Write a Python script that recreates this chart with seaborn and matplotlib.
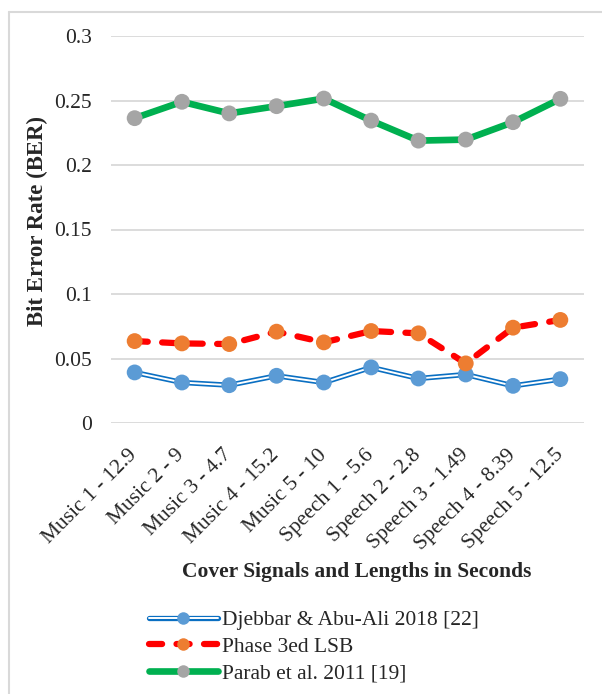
import matplotlib
matplotlib.use("Agg")
import matplotlib.pyplot as plt
from matplotlib.lines import Line2D
import numpy as np
import pandas as pd
import seaborn as sns

# Cover signals (name - length in seconds)
signals = ["Music 1 - 12.9", "Music 2 - 9", "Music 3 - 4.7", "Music 4 - 15.2",
           "Music 5 - 10", "Speech 1 - 5.6", "Speech 2 - 2.8", "Speech 3 - 1.49",
           "Speech 4 - 8.39", "Speech 5 - 12.5"]

# Bit error rate of each method
ber_djebbar = [0.0392, 0.0314, 0.0293, 0.0366, 0.0314, 0.0431, 0.0345, 0.0376, 0.0288, 0.0340]
ber_phase = [0.0635, 0.0617, 0.0612, 0.0708, 0.0625, 0.0713, 0.0695, 0.0462, 0.0739, 0.0799]
ber_parab = [0.2363, 0.2490, 0.2400, 0.2456, 0.2515, 0.2344, 0.2189, 0.2197, 0.2332, 0.2513]

series_names = ["Djebbar & Abu-Ali 2018 [22]", "Phase 3ed LSB", "Parab et al. 2011 [19]"]
y_ticks = [0, 0.05, 0.1, 0.15, 0.2, 0.25, 0.3]
y_tick_labels = ["0", "0.05", "0.1", "0.15", "0.2", "0.25", "0.3"]

sns.set_style("white")
plt.rcParams["font.family"] = ["Liberation Serif", "DejaVu Serif"]

BLUE_LINE = "#0a6fc2"
BLUE_MARK = "#5b9bd5"
RED = "#ff0000"
ORANGE = "#ed7d31"
GREEN = "#00b050"
GRAY = "#a5a5a5"
GRID = "#d9d9d9"
FS = 15.5
DASH = [2.1, 2.3]

fig = plt.figure(figsize=(6.02, 6.94), dpi=100)
ax = fig.add_axes([111 / 602, 1 - 423 / 694, (584 - 111) / 602, (423 - 36) / 694])

pos = np.arange(len(signals))
df = pd.DataFrame({"pos": pos, "djebbar": ber_djebbar, "phase": ber_phase, "parab": ber_parab})

# Djebbar & Abu-Ali: double (compound) blue line
sns.lineplot(data=df, x="pos", y="djebbar", ax=ax, color=BLUE_LINE, lw=3.8,
             zorder=3, solid_capstyle="round")
sns.lineplot(data=df, x="pos", y="djebbar", ax=ax, color="white", lw=1.4, zorder=3.1)
sns.scatterplot(data=df, x="pos", y="djebbar", ax=ax, color=BLUE_MARK, s=130,
                edgecolor="none", zorder=3.2)

# Phase 3ed LSB: red dashed line with orange markers
sns.lineplot(data=df, x="pos", y="phase", ax=ax, color=RED, lw=4.5, zorder=4)
ax.lines[-1].set_dashes(DASH)
ax.lines[-1].set_dash_capstyle("round")
sns.scatterplot(data=df, x="pos", y="phase", ax=ax, color=ORANGE, s=130,
                edgecolor="none", zorder=4.2)

# Parab et al.: thick green line with gray markers
sns.lineplot(data=df, x="pos", y="parab", ax=ax, color=GREEN, lw=4.8, zorder=5)
sns.scatterplot(data=df, x="pos", y="parab", ax=ax, color=GRAY, s=130,
                edgecolor="none", zorder=5.2)

ax.set_xlim(-0.5, len(signals) - 0.5)
ax.set_ylim(0, 0.3)
ax.set_yticks(y_ticks)
ax.set_yticklabels(y_tick_labels, fontsize=FS)
ax.set_xticks(pos)
ax.set_xticklabels(signals, fontsize=FS, rotation=45, ha="right",
                   rotation_mode="anchor", va="center")
ax.tick_params(axis="y", length=0, pad=14)
ax.tick_params(axis="x", length=0, pad=21)
ax.grid(axis="y", color=GRID, lw=1.3, zorder=0)
ax.set_axisbelow(True)
for s in ax.spines.values():
    s.set_visible(False)

ax.set_ylabel("Bit Error Rate (BER)", fontsize=16.5, fontweight="bold")
ax.yaxis.set_label_coords((48 - 111) / 473, (423 - 221) / 387)
ax.set_xlabel("Cover Signals and Lengths in Seconds", fontsize=FS, fontweight="bold")
ax.xaxis.set_label_coords((357 - 111) / 473, (423 - 562) / 387)

# Legend
h_djebbar = (Line2D([], [], color=BLUE_LINE, lw=3.8, solid_capstyle="round"),
             Line2D([], [], color="white", lw=1.4),
             Line2D([], [], ls="none", marker="o", ms=9, color=BLUE_MARK, mec="none"))
h_phase = (Line2D([], [], color=RED, lw=4.5, dashes=DASH, dash_capstyle="round"),
           Line2D([], [], ls="none", marker="o", ms=9, color=ORANGE, mec="none"))
h_parab = (Line2D([], [], color=GREEN, lw=4.8),
           Line2D([], [], ls="none", marker="o", ms=9, color=GRAY, mec="none"))
fig.legend([h_djebbar, h_phase, h_parab], series_names,
           loc="upper left", bbox_to_anchor=(149 / 602, 1 - 610 / 694),
           frameon=False, fontsize=FS, handlelength=3.2, handletextpad=0.2,
           labelspacing=0.31, borderpad=0, borderaxespad=0)

# Outer frame of the figure (top and left edges)
fig.add_artist(Line2D([9 / 602, 1], [1 - 12 / 694, 1 - 12 / 694],
                      transform=fig.transFigure, color=GRID, lw=1.5))
fig.add_artist(Line2D([9 / 602, 9 / 602], [0, 1 - 12 / 694],
                      transform=fig.transFigure, color=GRID, lw=1.5))

fig.savefig("out.png", dpi=100, facecolor="white")
